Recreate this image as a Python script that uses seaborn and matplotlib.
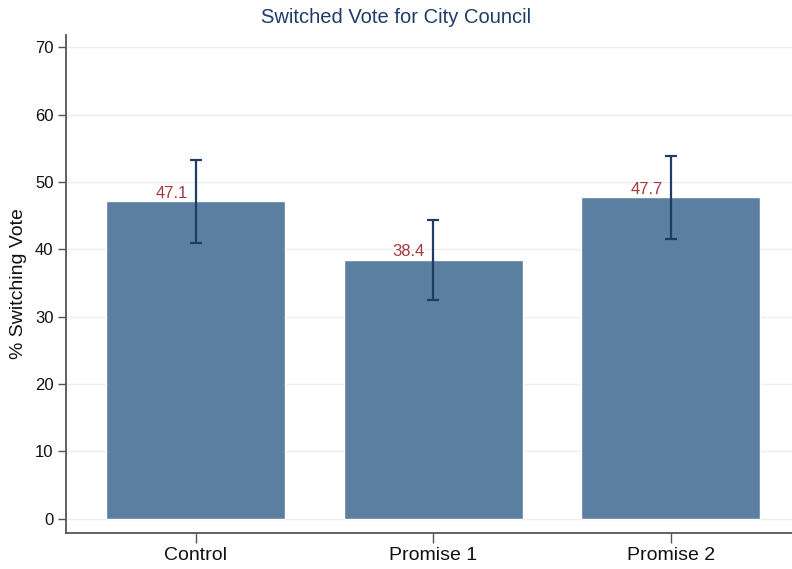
import pandas as pd
import numpy as np
import matplotlib
matplotlib.use('Agg')
import matplotlib.pyplot as plt
import seaborn as sns

# Werte
groups = ['Control', 'Promise 1', 'Promise 2']
pct_switch = [47.1, 38.4, 47.7]
ci_low = [41.0, 32.5, 41.6]
ci_high = [53.2, 44.3, 53.8]
y_ticks = [0, 10, 20, 30, 40, 50, 60, 70]

df = pd.DataFrame({'group': groups, 'pct': pct_switch})

sns.set_theme(style='white')
plt.rcParams['font.family'] = ['Liberation Sans', 'DejaVu Sans']

bar_color = '#5a7fa0'
navy = '#1f3b66'
label_red = '#a53a3c'

fig = plt.figure(figsize=(7.92, 5.69), dpi=100)
ax = fig.add_axes([0.0833, 0.0633, 0.925, 0.8752])

sns.barplot(data=df, x='group', y='pct', color=bar_color, saturation=1,
            width=0.754, ax=ax, zorder=2)

# Konfidenzintervalle
xs = np.arange(len(groups))
ax.errorbar(xs, pct_switch,
            yerr=[np.array(pct_switch) - np.array(ci_low),
                  np.array(ci_high) - np.array(pct_switch)],
            fmt='none', ecolor=navy, elinewidth=1.6, capsize=4, capthick=1.6,
            zorder=3)

# Wertelabels
for x, v in zip(xs, pct_switch):
    ax.text(x - 0.035, v + 0.1, f'{v:.1f}', ha='right', va='bottom',
            color=label_red, fontsize=12, zorder=4)

ax.set_ylim(-2.1, 71.8)
ax.set_xlim(-0.547, 2.538)
ax.set_yticks(y_ticks)
ax.yaxis.grid(True, color='#eeeeee', linewidth=1, zorder=0)
ax.set_axisbelow(True)

for side in ['top', 'right']:
    ax.spines[side].set_visible(False)
for side in ['left', 'bottom']:
    ax.spines[side].set_color('#555555')
    ax.spines[side].set_linewidth(1.3)

ax.tick_params(axis='y', which='major', direction='out', length=6, width=1,
               color='#555555', labelcolor='#111111', labelsize=12, pad=3, left=True)
ax.tick_params(axis='x', which='major', direction='out', length=7, width=1,
               color='#555555', labelcolor='#111111', labelsize=14, pad=3, bottom=True)

ax.set_xlabel('')
ax.set_ylabel('% Switching Vote', fontsize=14, labelpad=6, color='#111111')

fig.text(0.5, 0.97, 'Switched Vote for City Council', ha='center', va='center',
         fontsize=14.5, color=navy)

fig.savefig('out.png', dpi=100)
